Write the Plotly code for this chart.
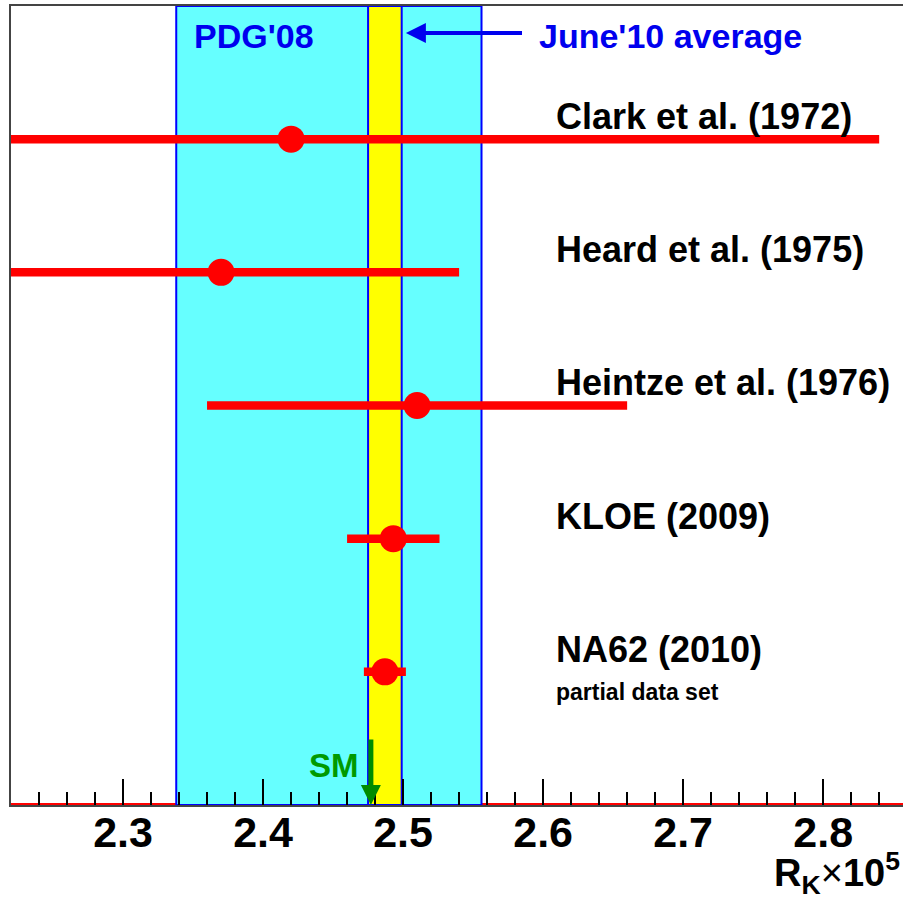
import plotly.graph_objects as go

# ---- data ----
experiments = ["Clark et al. (1972)", "Heard et al. (1975)", "Heintze et al. (1976)",
               "KLOE (2009)", "NA62 (2010)"]
rk_values = [2.42, 2.37, 2.51, 2.493, 2.487]
rk_errors = [0.42, 0.17, 0.15, 0.033, 0.015]
row_pos = [5, 4, 3, 2, 1]

pdg08_value = 2.447
pdg08_error = 0.109
june10_value = 2.487
june10_error = 0.012
sm_value = 2.477

x_range = [2.22, 2.857]
y_range = [0, 6]

FONT = "Liberation Sans"
RED = "#ff0000"
BLUE = "#0000ee"
GREEN = "#009a00"

fig = go.Figure()

fig.add_trace(go.Scatter(
    x=rk_values, y=row_pos, mode="markers",
    marker=dict(size=27, color=RED, line=dict(width=0)),
    error_x=dict(type="data", array=rk_errors, visible=True,
                 color=RED, thickness=8.5, width=0),
    showlegend=False, hoverinfo="skip",
))

shapes = []
# red baseline (under the bands)
shapes.append(dict(type="line", xref="paper", yref="y", x0=0, x1=1, y0=0, y1=0,
                   line=dict(color=RED, width=4), layer="below"))
# PDG'08 band
shapes.append(dict(type="rect", xref="x", yref="paper",
                   x0=pdg08_value - pdg08_error, x1=pdg08_value + pdg08_error,
                   y0=0, y1=1, fillcolor="#66ffff",
                   line=dict(color="#0000ff", width=2), layer="below"))
# June'10 average band
shapes.append(dict(type="rect", xref="x", yref="paper",
                   x0=june10_value - june10_error, x1=june10_value + june10_error,
                   y0=0, y1=1, fillcolor="#ffff00",
                   line=dict(color="#0000ff", width=2), layer="below"))
fig.update_layout(shapes=shapes)

annotations = []
# experiment labels
for name, yv in zip(experiments, row_pos):
    annotations.append(dict(text=name, xref="paper", yref="y", x=0.609, y=yv + 0.17,
                            xanchor="left", yanchor="middle", showarrow=False,
                            font=dict(family=FONT, size=36, color="black", weight="bold")))
annotations.append(dict(text="partial data set", xref="paper", yref="y", x=0.609,
                        y=row_pos[4] - 0.15, xanchor="left", yanchor="middle",
                        showarrow=False,
                        font=dict(family=FONT, size=23, color="black", weight="bold")))
annotations.append(dict(text="PDG'08", xref="paper", yref="paper", x=0.272, y=0.963,
                        xanchor="center", yanchor="middle", showarrow=False,
                        font=dict(family=FONT, size=34, color=BLUE, weight="bold")))
annotations.append(dict(text="June'10 average", xref="paper", yref="paper", x=0.7394,
                        y=0.963, xanchor="center", yanchor="middle", showarrow=False,
                        font=dict(family=FONT, size=34, color=BLUE, weight="bold")))
# blue arrow pointing to the average band
annotations.append(dict(text="", xref="x", yref="y", x=june10_value + june10_error + 0.003,
                        y=5.797, axref="x", ayref="y", ax=2.586, ay=5.797,
                        showarrow=True, arrowhead=2, arrowsize=1.0, arrowwidth=4,
                        arrowcolor=BLUE))
# SM
annotations.append(dict(text="SM", xref="paper", yref="paper", x=0.3621, y=0.05,
                        xanchor="center", yanchor="middle", showarrow=False,
                        font=dict(family=FONT, size=33, color=GREEN, weight="bold")))
annotations.append(dict(text="", xref="x", yref="y", x=sm_value, y=0.0,
                        axref="x", ayref="y", ax=sm_value, ay=0.503,
                        showarrow=True, arrowhead=2, arrowsize=0.8, arrowwidth=5,
                        arrowcolor="#008c00"))
# axis title
annotations.append(dict(text="<b>R<sub>K</sub></b>×<b>10<sup>5</sup></b>", xref="paper",
                        yref="paper", x=0.8535, y=-0.085, xanchor="left", yanchor="middle",
                        showarrow=False,
                        font=dict(family=FONT, size=38, color="black")))
fig.update_layout(annotations=annotations)

fig.update_xaxes(
    range=x_range, tick0=2.3, dtick=0.1, tickformat=".1f",
    ticks="inside", ticklen=26, tickwidth=2, tickcolor="black",
    minor=dict(dtick=0.02, ticks="inside", ticklen=13, tickwidth=1.5, tickcolor="black"),
    showline=True, linecolor="#444444", linewidth=2, mirror=True,
    showgrid=False, zeroline=False, ticklabelstandoff=-12,
    tickfont=dict(family=FONT, size=43, color="black", weight="bold"),
)
fig.update_yaxes(
    range=y_range, showticklabels=False, ticks="",
    showline=True, linecolor="#444444", linewidth=2, mirror=False,
    showgrid=False, zeroline=False,
)

fig.update_layout(
    width=903, height=898,
    margin=dict(l=11, r=0, t=6, b=93),
    paper_bgcolor="white", plot_bgcolor="white",
    showlegend=False,
)

fig.write_html("out.html", config={"displayModeBar": False},
               post_script="document.body.style.margin='0px';document.body.style.overflow='hidden';")
